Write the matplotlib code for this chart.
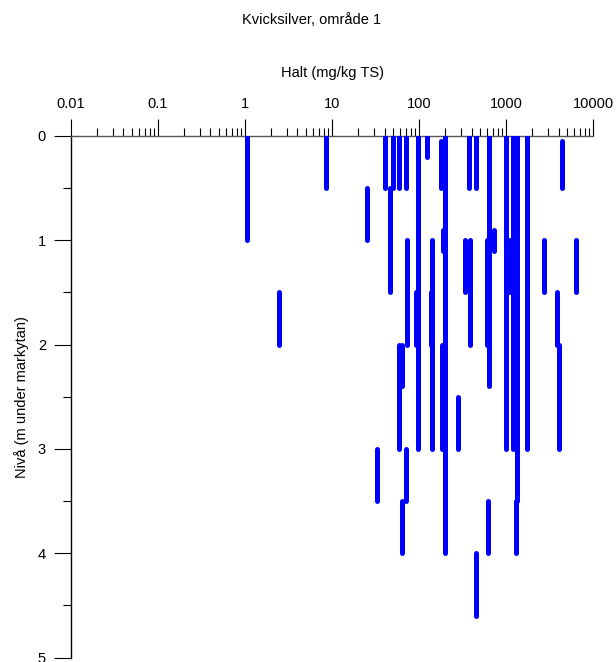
import numpy as np
import matplotlib.pyplot as plt
from matplotlib.ticker import LogLocator, NullFormatter, FixedLocator

plt.rcParams['font.family'] = ['Liberation Sans', 'DejaVu Sans']

# halt (mg/kg TS) and depth interval (m under markytan) for each sample
halt = [1.05, 2.45, 8.4, 25, 33, 41, 46, 50, 58, 59, 63, 64, 70, 70.5, 73,
        92, 98, 124, 136, 140, 178, 183, 186, 200, 282, 336, 373, 383, 448,
        450, 596, 612, 640, 723, 1000, 1100, 1206, 1340, 1300, 1715, 2717,
        3800, 4080, 4350, 6280]
niva_top = [0, 1.5, 0, 0.5, 3.0, 0, 0.5, 0, 0, 2.0, 2.0, 3.5, 3.0, 0, 1.0,
            1.5, 0, 0, 1.5, 1.0, 0.05, 2.0, 0.9, 0, 2.5, 1.0, 0, 1.0, 0,
            4.0, 1.0, 3.5, 0, 0.9, 0, 1.0, 0, 0, 3.5, 0, 1.0,
            1.5, 2.0, 0.05, 1.0]
niva_bot = [1.0, 2.0, 0.5, 1.0, 3.5, 0.5, 1.5, 0.5, 0.5, 3.0, 2.4, 4.0, 3.5, 0.5, 2.0,
            2.0, 3.0, 0.2, 2.0, 3.0, 0.5, 3.0, 1.1, 4.0, 3.0, 1.5, 0.5, 2.0, 0.5,
            4.6, 2.0, 4.0, 2.4, 1.1, 3.0, 1.5, 3.0, 3.5, 4.0, 3.0, 1.5,
            2.0, 3.0, 0.5, 1.5]

xticks = [0.01, 0.1, 1, 10, 100, 1000, 10000]
xlabels = ["0.01", "0.1", "1", "10", "100", "1000", "10000"]
yticks = [0, 1, 2, 3, 4, 5]

fig = plt.figure(figsize=(6.16, 6.62), dpi=100)
ax = fig.add_axes([0.1153, 0.0065, 0.8477, 0.7885])

ax.vlines(halt, niva_top, niva_bot, colors='#0000ff', linewidth=3.6,
          capstyle='round', zorder=3)

ax.set_xscale('log')
ax.set_xlim(0.01, 10000)
ax.set_ylim(5, 0)

ax.xaxis.tick_top()
ax.xaxis.set_label_position('top')
ax.set_xticks(xticks)
ax.set_xticklabels(xlabels)
ax.xaxis.set_minor_locator(LogLocator(base=10, subs=np.arange(2, 10)))
ax.xaxis.set_minor_formatter(NullFormatter())

ax.set_yticks(yticks)
ax.set_yticklabels([str(t) for t in yticks])
ax.yaxis.set_minor_locator(FixedLocator(np.arange(0.5, 5, 1.0)))

ax.tick_params(axis='both', which='major', length=12, width=0.8, labelsize=10.5,
               color='black', pad=6)
ax.tick_params(axis='both', which='minor', length=6, width=0.8, color='black')

for s in ['bottom', 'right']:
    ax.spines[s].set_visible(False)
ax.spines['top'].set_color('#555555')
ax.spines['top'].set_linewidth(1.0)
ax.spines['left'].set_color('black')
ax.spines['left'].set_linewidth(1.0)

ax.set_xlabel("Halt (mg/kg TS)", fontsize=10.5, labelpad=14)
ax.set_ylabel("Nivå (m under markytan)", fontsize=10.5, labelpad=6)

fig.text(0.505, 1 - 20 / 662, "Kvicksilver, område 1", ha='center', va='center',
         fontsize=10.5)

fig.savefig("out.png", dpi=100)
